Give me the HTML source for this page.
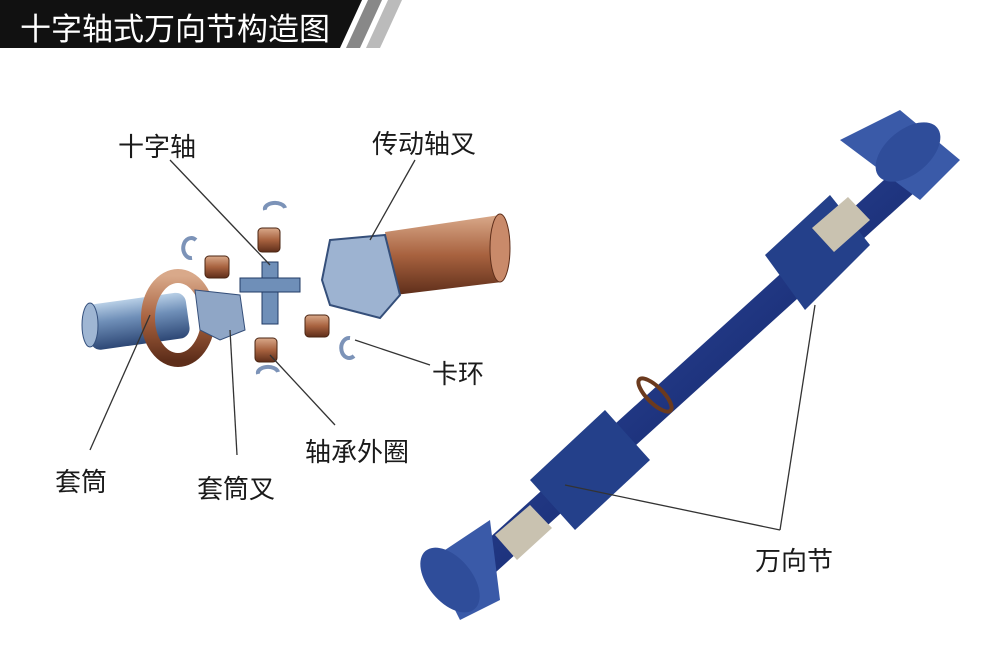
<!DOCTYPE html>
<html><head><meta charset="utf-8"><style>
body{margin:0;width:1000px;height:667px;background:#fff;overflow:hidden;position:relative;font-family:"Liberation Sans","Noto Sans CJK SC",sans-serif}
.l{position:absolute;font-size:26px;color:#1a1a1a;white-space:nowrap}
</style></head><body>
<svg width="1000" height="667" style="position:absolute;left:0;top:0">
<defs>
<linearGradient id="bl" x1="0" y1="0" x2="0" y2="1"><stop offset="0" stop-color="#b8cfe6"/><stop offset=".4" stop-color="#6f8fb8"/><stop offset="1" stop-color="#2d4775"/></linearGradient>
<linearGradient id="br" x1="0" y1="0" x2="0" y2="1"><stop offset="0" stop-color="#d9a98a"/><stop offset=".5" stop-color="#a8623f"/><stop offset="1" stop-color="#5e2e1a"/></linearGradient>
<linearGradient id="nv" x1="0" y1="0" x2="1" y2="1"><stop offset="0" stop-color="#3f5fb0"/><stop offset=".5" stop-color="#1f3580"/><stop offset="1" stop-color="#0f1c4a"/></linearGradient>
</defs>
<polygon points="0,0 362,0 340,48 0,48" fill="#111"/>
<polygon points="368,0 382,0 360,48 346,48" fill="#888"/>
<polygon points="388,0 402,0 380,48 366,48" fill="#bbb"/>
<rect x="88" y="298" width="100" height="46" rx="10" fill="url(#bl)" transform="rotate(-8 140 320)"/>
<ellipse cx="90" cy="325" rx="8" ry="22" fill="#9fb6d3" stroke="#34507d"/>
<ellipse cx="178" cy="318" rx="30" ry="42" fill="none" stroke="url(#br)" stroke-width="14"/>
<path d="M195 290 L240 295 L245 330 L220 340 L200 330Z" fill="#8fa6c6" stroke="#354f7a"/>
<path d="M385 232 L500 215 Q512 250 502 282 L395 295Z" fill="url(#br)"/>
<ellipse cx="500" cy="248" rx="10" ry="34" fill="#c98a6a" stroke="#5e2e1a"/>
<path d="M330 240 L385 235 L400 295 L380 318 L330 305 L322 280Z" fill="#9db3d1" stroke="#354f7a" stroke-width="2"/>
<rect x="262" y="262" width="16" height="62" fill="#6f8fb8" stroke="#223b66"/>
<rect x="240" y="278" width="60" height="14" fill="#6f8fb8" stroke="#223b66"/>
<g fill="url(#br)" stroke="#4a2412">
<rect x="258" y="228" width="22" height="24" rx="4"/><rect x="205" y="256" width="24" height="22" rx="4"/>
<rect x="305" y="315" width="24" height="22" rx="4"/><rect x="255" y="338" width="22" height="24" rx="4"/></g>
<g fill="none" stroke="#7c93b8" stroke-width="4">
<path d="M285 208 a10 6 0 1 0 -20 2"/><path d="M196 240 a8 10 0 1 0 -4 18"/><path d="M350 338 a8 10 0 1 0 4 18"/><path d="M278 372 a10 6 0 1 0 -20 2"/></g>
<polygon points="465,560 895,170 915,192 485,582" fill="url(#nv)"/>
<polygon points="530,480 605,410 650,460 575,530" fill="#24408a"/>
<polygon points="765,255 830,195 870,245 805,310" fill="#24408a"/>
<polygon points="430,560 490,520 500,600 460,620" fill="#3a5aa8"/>
<polygon points="840,140 900,110 960,160 920,200" fill="#3a5aa8"/>
<ellipse cx="450" cy="580" rx="22" ry="38" fill="#2f4d9a" transform="rotate(-40 450 580)"/>
<ellipse cx="908" cy="152" rx="38" ry="22" fill="#2f4d9a" transform="rotate(-40 908 152)"/>
<polygon points="495,535 530,505 552,528 517,560" fill="#c9c2b0"/>
<polygon points="812,228 848,197 870,220 834,252" fill="#c9c2b0"/>
<ellipse cx="655" cy="395" rx="8" ry="22" fill="none" stroke="#6b3a1e" stroke-width="4" transform="rotate(-45 655 395)"/>
<g stroke="#333" stroke-width="1.3" fill="none">
<line x1="170" y1="160" x2="270" y2="265"/><line x1="415" y1="160" x2="370" y2="240"/>
<line x1="430" y1="365" x2="355" y2="340"/><line x1="335" y1="425" x2="270" y2="355"/>
<line x1="90" y1="450" x2="150" y2="315"/><line x1="237" y1="455" x2="230" y2="330"/>
<line x1="780" y1="530" x2="565" y2="485"/><line x1="780" y1="530" x2="815" y2="305"/>
</g>
</svg>
<div class="l" style="left:20px;top:4px;color:#fff;font-size:31px">十字轴式万向节构造图</div>
<div class="l" style="left:118px;top:127px">十字轴</div>
<div class="l" style="left:372px;top:124px">传动轴叉</div>
<div class="l" style="left:432px;top:354px">卡环</div>
<div class="l" style="left:305px;top:432px">轴承外圈</div>
<div class="l" style="left:55px;top:462px">套筒</div>
<div class="l" style="left:197px;top:469px">套筒叉</div>
<div class="l" style="left:755px;top:541px">万向节</div>
</body></html>
